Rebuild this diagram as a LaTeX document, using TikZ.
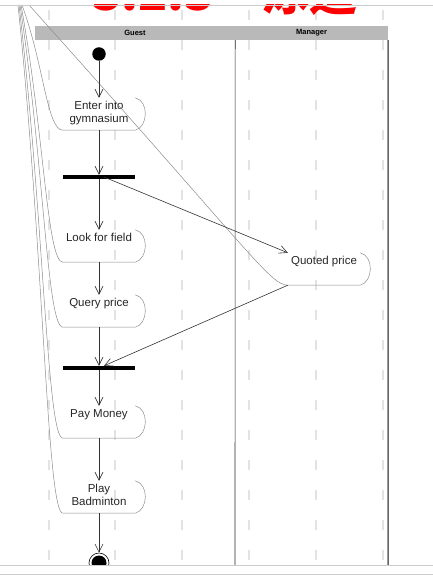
\documentclass[tikz,border=0pt]{standalone}
\usepackage{fontspec}
\setmainfont{Liberation Sans}
\newfontfamily\cjk{Noto Sans CJK SC}
\usetikzlibrary{arrows.meta, positioning}
\tikzset{
  act/.style      = {rectangle, minimum width=72pt, minimum height=32pt, inner sep=0pt},
  acttext/.style  = {font=\fontsize{11.5}{13}\selectfont, text=black!85, align=center,
                     inner sep=0pt, anchor=north, yshift=-3.6pt},
  outline/.style  = {draw=black!45, line width=0.5pt},
  bar/.style      = {rectangle, fill=black, minimum width=72pt, minimum height=4pt, inner sep=0pt},
  lanehead/.style = {rectangle, fill=gray!55, minimum height=14pt, inner sep=0pt,
                     font=\fontsize{7.5}{9}\selectfont\bfseries},
  arrow/.style    = {draw=black!80, line width=0.6pt, -{Straight Barb[length=8pt,width=8pt]}},
}

\begin{document}
\begin{tikzpicture}[x=1pt, y=-1pt]
  \useasboundingbox (0,0) rectangle (433,578);

  %% Background grid
  \foreach \x in {49,115,182,249,316,383}
    \draw[gray!22, line width=2pt, dash pattern=on 10pt off 20pt] (\x,10) -- (\x,578);

  \begin{scope}
    \clip (0,5) rectangle (433,565);

    %% Title, cut off at the top
    \node[anchor=base west, inner sep=0pt, text=red,
          font=\cjk\bfseries\fontsize{48}{48}\selectfont] (title) at (92,10.5) {3.2.3\quad 泳道};

    %% Swimlanes
    \node[lanehead, minimum width=200pt] (guest) at (135,33) {Guest};
    \node[lanehead, minimum width=153pt] (manager) at (311.5,33) {Manager};
    \draw[black!85, line width=0.6pt] (guest.south east) -- (235,565);
    \draw[black!60, line width=1.5pt] (manager.south east) -- (388,565);

    %% Activities
    \node[circle, fill=black, minimum size=13.5pt, inner sep=0pt] (start) at (99,54) {};
    \node[act, label={[acttext]north:{Enter into\\gymnasium}}] (enter) at (99,114) {};
    \node[bar] (fork1) at (99,177) {};
    \node[act, label={[acttext]north:Look for field}] (look) at (99,246) {};
    \node[act, label={[acttext]north:Quoted price}] (quoted) at (324,269) {};
    \node[act, label={[acttext]north:Query price}] (query) at (99,311) {};
    \node[bar] (fork2) at (99,368) {};
    \node[act, label={[acttext]north:Pay Money}] (pay) at (99,422) {};
    \node[act, label={[acttext]north:{Play\\Badminton}}] (play) at (99,497) {};
    \node[circle, draw=black, line width=0.6pt, minimum size=20pt, inner sep=0pt] (stop) at (99,563) {};
    \fill[black] (stop) circle (7.5pt);

    %% Activity outlines
    \foreach \n/\e/\b in {enter/22/130, look/21/262, query/20/327, pay/19/438, play/18/513}
      \draw[outline] (\n.north east) .. controls +(14,3) and +(13,-3) .. (\n.south east)
        -- (\n.south west) .. controls (47,\b) and (44,\b/2) .. (\e,5);
    \draw[outline] (quoted.north east) .. controls +(14,3) and +(13,-3) .. (quoted.south east)
      -- (quoted.south west) .. controls (270,285) and (250,251) .. (29,5);

    %% Flows
    \draw[arrow] (start) -- (enter);
    \draw[arrow] (enter) -- (fork1);
    \draw[arrow] (fork1) -- (look);
    \draw[arrow] ([xshift=5pt]fork1.center) -- (quoted.north west);
    \draw[arrow] (look) -- (query);
    \draw[arrow] (query) -- (fork2);
    \draw[arrow] (quoted.south west) -- ([xshift=5pt]fork2.north);
    \draw[arrow] (fork2) -- (pay);
    \draw[arrow] (pay) -- (play);
    \draw[arrow] (play) -- (stop);
  \end{scope}

  %% Frame lines
  \draw[gray!40, line width=0.8pt] (0,5) -- (433,5);
  \draw[gray!40, line width=1pt] (0,565) -- (433,565);
  \draw[gray!40, line width=1pt] (0,574) -- (433,574);
\end{tikzpicture}
\end{document}
